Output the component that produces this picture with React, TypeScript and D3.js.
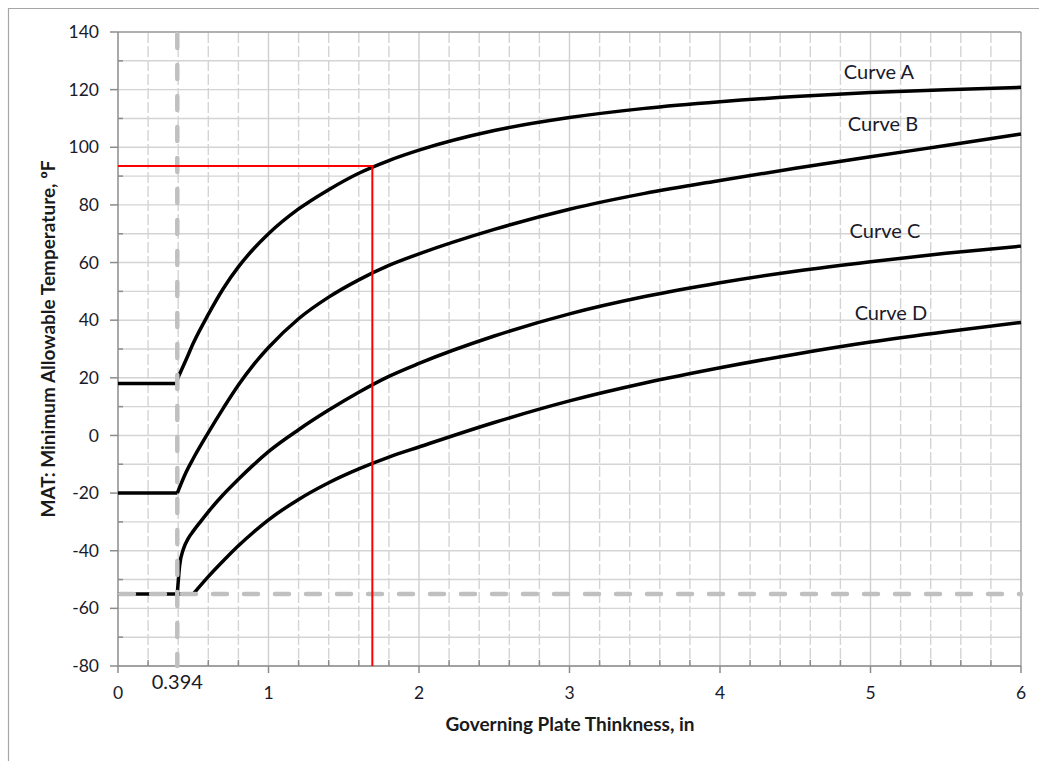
import React from "react";
import * as d3 from "d3";

// thickness (in) / MAT (F)
const flatA = [0, 0.394];
const flatATemp = [18, 18];
const curveAThk = [0.394, 0.45, 0.5, 0.6, 0.7, 0.8, 0.9, 1.0, 1.2, 1.4, 1.6, 1.8, 2.0, 2.5, 3.0, 3.5, 4.0, 4.5, 5.0, 5.5, 6.0];
const curveATemp = [19.5, 26, 32, 42, 51, 58.5, 64.7, 70, 78.6, 85.3, 91, 95.4, 99, 105.8, 110.3, 113.5, 115.8, 117.6, 119, 120, 120.8];

const flatB = [0, 0.394];
const flatBTemp = [-20, -20];
const curveBThk = [0.394, 0.45, 0.5, 0.6, 0.7, 0.8, 0.9, 1.0, 1.2, 1.4, 1.6, 1.8, 2.0, 2.5, 3.0, 3.5, 4.0, 4.5, 5.0, 5.5, 6.0];
const curveBTemp = [-20, -13, -8, 1, 9.5, 17.5, 24.5, 30.5, 40.5, 48, 54, 59, 63, 71.5, 78.5, 84, 88.5, 92.7, 96.7, 100.6, 104.6];

const flatC = [0, 0.394];
const flatCTemp = [-55, -55];
const curveCThk = [0.394, 0.41, 0.434, 0.467, 0.5, 0.55, 0.6, 0.7, 0.8, 0.9, 1.0, 1.2, 1.4, 1.6, 1.8, 2.0, 2.5, 3.0, 3.5, 4.0, 4.5, 5.0, 5.5, 6.0];
const curveCTemp = [-55, -45, -39.5, -35.7, -33.2, -29.8, -26.5, -20.5, -15.2, -10.2, -5.6, 2, 8.8, 15, 20.5, 25, 34.5, 42.2, 48.2, 53, 57, 60.3, 63.2, 65.7];

const flatD = [0.394, 0.5];
const flatDTemp = [-55, -55];
const curveDThk = [0.5, 0.6, 0.7, 0.8, 0.9, 1.0, 1.2, 1.4, 1.6, 1.8, 2.0, 2.5, 3.0, 3.5, 4.0, 4.5, 5.0, 5.5, 6.0];
const curveDTemp = [-55, -49, -43.5, -38.3, -33.6, -29.3, -22.2, -16.4, -11.6, -7.5, -4, 4.5, 12, 18.2, 23.5, 28.2, 32.4, 36, 39.2];

const curveLabels = ["Curve A", "Curve B", "Curve C", "Curve D"];
const labelThk = [5.056, 5.083, 5.096, 5.136];
const labelTemp = [123.7, 105.6, 68.5, 40.1];

const designThk = 1.69;
const designMat = 93.5;
const exemptThk = 0.394;
const floorTemp = -55;

const xTicks = [0, 1, 2, 3, 4, 5, 6];
const yTicks = [-80, -60, -40, -20, 0, 20, 40, 60, 80, 100, 120, 140];

const font = "Lato, 'Open Sans', sans-serif";

export default function App() {
  const W = 1039, H = 761;
  const left = 118, right = 1021, top = 32, bottom = 666;

  const x = d3.scaleLinear().domain([0, 6]).range([left, right]);
  const y = d3.scaleLinear().domain([-80, 140]).range([bottom, top]);

  const line = d3.line<[number, number]>().x(d => x(d[0])).y(d => y(d[1]));
  const smooth = d3.line<[number, number]>().x(d => x(d[0])).y(d => y(d[1])).curve(d3.curveMonotoneX);
  const zip = (a: number[], b: number[]) => a.map((v, i) => [v, b[i]] as [number, number]);

  const minorX = d3.range(0, 6.001, 0.2).map(v => +v.toFixed(1)).filter(v => !Number.isInteger(v));
  const gridY = d3.range(-80, 141, 10);

  const flats = [zip(flatA, flatATemp), zip(flatB, flatBTemp), zip(flatC, flatCTemp), zip(flatD, flatDTemp)];
  const curves = [zip(curveAThk, curveATemp), zip(curveBThk, curveBTemp), zip(curveCThk, curveCTemp), zip(curveDThk, curveDTemp)];

  return (
    <svg width={W} height={H} style={{ position: "absolute", left: 0, top: 0, background: "#fff" }}>
      {/* outer frame */}
      <path d={`M8.5,${H} L8.5,8.5 L${W},8.5`} fill="none" stroke="#a6a6a6" strokeWidth={1.2} />

      {/* grid */}
      {gridY.map(v => (
        <line key={"gy" + v} x1={left} x2={right} y1={y(v)} y2={y(v)} stroke="#d4d4d4" strokeWidth={1.4} />
      ))}
      {minorX.map(v => (
        <line key={"gx" + v} x1={x(v)} x2={x(v)} y1={top} y2={bottom} stroke="#d4d4d4" strokeWidth={1.4} strokeDasharray="11,3" />
      ))}
      {xTicks.slice(1, -1).map(v => (
        <line key={"gxm" + v} x1={x(v)} x2={x(v)} y1={top} y2={bottom} stroke="#cfcfcf" strokeWidth={1.4} />
      ))}

      {/* plot border */}
      <line x1={left} x2={right} y1={top} y2={top} stroke="#a0a0a0" strokeWidth={1.4} />
      <line x1={right} x2={right} y1={top} y2={bottom} stroke="#a0a0a0" strokeWidth={1.4} />

      {/* axes */}
      <line x1={left} x2={left} y1={top} y2={bottom} stroke="#8c8c8c" strokeWidth={1.5} />
      <line x1={left} x2={right} y1={bottom} y2={bottom} stroke="#8c8c8c" strokeWidth={1.5} />
      {yTicks.map(v => (
        <line key={"yt" + v} x1={left - 8} x2={left} y1={y(v)} y2={y(v)} stroke="#8c8c8c" strokeWidth={1.5} />
      ))}
      {gridY.filter(v => v % 20 !== 0).map(v => (
        <line key={"ytm" + v} x1={left} x2={left + 5} y1={y(v)} y2={y(v)} stroke="#8c8c8c" strokeWidth={1.5} />
      ))}
      {xTicks.map(v => (
        <line key={"xt" + v} x1={x(v)} x2={x(v)} y1={bottom} y2={bottom + 7} stroke="#8c8c8c" strokeWidth={1.5} />
      ))}
      {minorX.map(v => (
        <line key={"xtm" + v} x1={x(v)} x2={x(v)} y1={bottom - 6} y2={bottom} stroke="#8c8c8c" strokeWidth={1.5} />
      ))}

      {/* tick labels */}
      {yTicks.map(v => (
        <text key={"yl" + v} x={left - 19} y={y(v)} dy="0.35em" textAnchor="end" fontFamily={font} fontSize={17.5} fill="#1a1a2a">{v}</text>
      ))}
      {xTicks.map(v => (
        <text key={"xl" + v} x={x(v)} y={bottom + 33} textAnchor="middle" fontFamily={font} fontSize={17.5} fill="#1a1a2a">{v}</text>
      ))}
      <text x={x(exemptThk)} y={bottom + 23} textAnchor="middle" fontFamily={font} fontSize={20} fill="#1a1a2a">{exemptThk}</text>

      {/* curves */}
      {flats.map((d, i) => (
        <path key={"f" + i} d={line(d) || ""} fill="none" stroke="#000" strokeWidth={3.5} />
      ))}
      {curves.map((d, i) => (
        <path key={"c" + i} d={smooth(d) || ""} fill="none" stroke="#000" strokeWidth={3.5} />
      ))}

      {/* grey reference lines */}
      <line x1={x(exemptThk)} x2={x(exemptThk)} y1={top + 2} y2={bottom} stroke="#c0c0c0" strokeWidth={4.5} strokeLinecap="round" strokeDasharray="14,17" />
      <line x1={left + 2} x2={right} y1={y(floorTemp)} y2={y(floorTemp)} stroke="#c0c0c0" strokeWidth={4.5} strokeLinecap="round" strokeDasharray="14,17" />

      {/* red design lines */}
      <path d={line([[0, designMat], [designThk, designMat], [designThk, -80]]) || ""} fill="none" stroke="#ff0000" strokeWidth={2} />

      {/* curve labels */}
      {curveLabels.map((t, i) => (
        <text key={t} x={x(labelThk[i])} y={y(labelTemp[i])} textAnchor="middle" fontFamily={font} fontSize={20} fill="#1a1a2a">{t}</text>
      ))}

      {/* axis titles */}
      <text x={570} y={731} textAnchor="middle" fontFamily={font} fontSize={19} fontWeight="bold" fill="#1a1a1a">Governing Plate Thinkness, in</text>
      <text transform={`translate(55,${(top + bottom) / 2 - 10}) rotate(-90)`} textAnchor="middle" fontFamily={font} fontSize={19} fontWeight="bold" fill="#1a1a1a">MAT: Minimum Allowable Temperature, ºF</text>
    </svg>
  );
}
